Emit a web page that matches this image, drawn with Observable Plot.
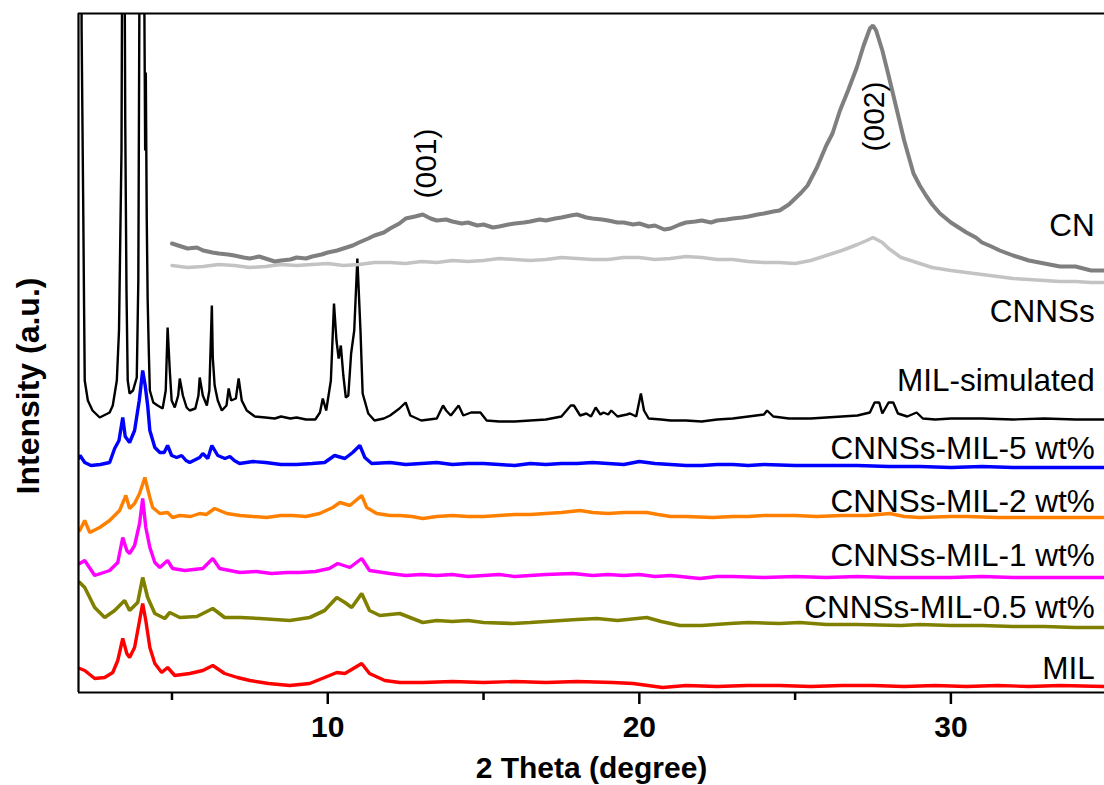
<!DOCTYPE html>
<html>
<head>
<meta charset="utf-8">
<script src="https://cdn.jsdelivr.net/npm/d3@7"></script>
<script src="https://cdn.jsdelivr.net/npm/@observablehq/plot@0.6"></script>
<style>
  html, body { margin: 0; padding: 0; background: #fff; }
  #chart { width: 1104px; height: 785px; overflow: hidden; }
</style>
</head>
<body>
<div id="chart"></div>
<script>
// ---------- data (2θ in degrees, intensity in arbitrary units, stacked offsets as in the figure) ----------
const seriesNames = ["CN", "CNNSs", "MIL-simulated", "CNNSs-MIL-5 wt%", "CNNSs-MIL-2 wt%", "CNNSs-MIL-1 wt%", "CNNSs-MIL-0.5 wt%", "MIL"];
const seriesColors = ["#7f7f7f", "#c3c3c3", "#000000", "#0000ff", "#ff8000", "#ff00ff", "#808000", "#ff0000"];
const seriesWidths = [4, 3.5, 2.4, 3.4, 3.4, 3.4, 3.6, 3.4];
const labelLevels = [467, 381, 312, 244, 191, 137, 85, 24];
const labelTheta = 34.62;
const xTicks = [10, 20, 30];
const xMinorTicks = [5, 15, 25];
const peakLabels = ["(001)", "(002)"];
const peakTheta = [13.18, 27.53];
const peakLevel = [529, 576];

const CN = [[5.0,449],[5.3,446],[5.5,444],[5.8,445],[6.0,442],[6.3,440],[6.5,439],[6.8,438],[7.0,437],[7.3,435],[7.5,434],[7.8,436],[8.0,434],[8.3,431],[8.5,432],[8.8,433],[9.0,435],[9.3,434],[9.5,436],[9.8,438],[10.0,440],[10.3,442],[10.5,444],[10.8,447],[11.0,450],[11.3,454],[11.5,457],[11.8,460],[12.0,464],[12.3,469],[12.5,474],[12.8,476],[13.05,478],[13.3,474],[13.5,472],[13.8,473],[14.0,471],[14.3,469],[14.5,470],[14.8,467],[15.0,468],[15.3,465],[15.5,466],[15.8,468],[16.0,469],[16.3,470],[16.5,471],[16.8,473],[17.0,472],[17.3,474],[17.5,475],[17.8,477],[18.0,478],[18.3,475],[18.5,474],[18.8,473],[19.0,472],[19.3,470],[19.5,470],[19.8,468],[20.0,469],[20.3,466],[20.5,467],[20.8,463],[21.0,464],[21.3,468],[21.5,470],[21.8,471],[22.0,472],[22.3,470],[22.5,472],[22.8,473],[23.0,474],[23.3,475],[23.5,476],[23.8,478],[24.0,479],[24.3,481],[24.5,482],[24.8,488],[25.0,494],[25.2,500],[25.4,507],[25.7,525],[26.0,547],[26.2,559],[26.44,582],[26.7,602],[26.98,625],[27.2,647],[27.4,664],[27.5,667],[27.6,662],[27.8,642],[28.0,617],[28.27,582],[28.5,552],[28.8,519],[29.0,507],[29.2,497],[29.4,488],[29.65,479],[30.0,470],[30.3,464],[30.5,460],[30.8,455],[31.0,450],[31.3,446],[31.57,442],[32.0,437],[32.5,432],[33.0,429],[33.5,426],[34.0,426],[34.5,422],[34.93,422]];

const CNNSs = [[5.0,427],[5.5,425],[6.0,426],[6.5,428],[7.0,427],[7.5,425],[8.0,426],[8.5,428],[9.0,427],[9.5,428],[10.0,429],[10.5,427],[11.0,428],[11.5,430],[12.0,430],[12.5,429],[13.0,431],[13.5,430],[14.0,432],[14.5,431],[15.0,432],[15.5,434],[16.0,433],[16.5,432],[17.0,433],[17.5,435],[18.0,434],[18.5,433],[19.0,433],[19.5,435],[20.0,435],[20.5,433],[21.0,434],[21.5,436],[22.0,435],[22.5,433],[23.0,433],[23.5,431],[24.0,430],[24.5,430],[25.0,429],[25.5,432],[26.0,437],[26.5,442],[27.0,448],[27.3,452],[27.5,455],[27.8,450],[28.0,444],[28.4,435],[29.0,429],[29.4,425],[30.0,422],[30.5,420],[31.0,418],[31.5,416],[32.0,414],[32.5,413],[33.0,412],[33.5,411],[34.0,411],[34.5,410],[34.93,410]];

const MILsim = [[2.0,900],[2.08,900],[2.1,662],[2.15,492],[2.18,382],[2.2,312],[2.3,292],[2.45,282],[2.68,275],[3.0,280],[3.1,287],[3.23,312],[3.3,362],[3.38,542],[3.42,900],[3.46,900],[3.5,572],[3.54,402],[3.58,312],[3.64,299],[3.75,302],[3.87,315],[3.92,412],[3.98,900],[4.08,900],[4.12,652],[4.14,542],[4.16,620],[4.19,475],[4.22,392],[4.26,337],[4.29,302],[4.4,290],[4.54,287],[4.7,284],[4.8,302],[4.86,365],[4.93,322],[4.99,292],[5.09,285],[5.2,297],[5.25,314],[5.35,297],[5.47,285],[5.57,282],[5.75,284],[5.85,297],[5.89,315],[5.99,297],[6.12,287],[6.2,302],[6.28,387],[6.31,335],[6.37,307],[6.47,292],[6.6,282],[6.75,287],[6.82,304],[6.9,292],[7.05,294],[7.14,314],[7.24,292],[7.4,282],[7.66,276],[8.0,275],[8.3,274],[8.5,276],[8.8,274],[9.0,275],[9.3,273],[9.6,273],[9.75,280],[9.84,294],[9.95,282],[10.1,312],[10.2,389],[10.28,352],[10.35,334],[10.42,347],[10.5,317],[10.58,295],[10.66,297],[10.75,339],[10.85,362],[10.95,434],[11.05,362],[11.12,299],[11.3,279],[11.5,272],[11.8,274],[12.0,277],[12.3,284],[12.5,290],[12.65,277],[13.0,272],[13.5,274],[13.7,287],[13.8,282],[13.95,277],[14.2,287],[14.35,277],[14.6,280],[14.9,280],[15.1,272],[15.5,271],[16.0,271],[16.5,272],[17.0,273],[17.5,276],[17.8,287],[17.9,287],[18.1,277],[18.3,279],[18.45,276],[18.6,285],[18.75,278],[18.85,280],[19.0,278],[19.1,282],[19.3,276],[19.6,278],[19.7,279],[19.9,276],[20.05,299],[20.15,282],[20.3,274],[20.7,273],[21.0,272],[21.5,272],[22.0,271],[22.5,273],[23.0,274],[23.5,276],[24.0,278],[24.1,282],[24.3,276],[24.8,274],[25.5,274],[26.0,275],[26.5,276],[27.0,277],[27.4,280],[27.55,290],[27.7,290],[27.8,279],[28.0,290],[28.15,290],[28.3,279],[28.6,276],[28.9,280],[29.1,274],[29.5,273],[30.0,274],[31.0,274],[32.0,273],[33.0,274],[34.0,273],[34.93,273]];

const MIL5 = [[2.0,234],[2.05,237],[2.2,230],[2.4,227],[2.7,228],[3.0,230],[3.16,244],[3.3,252],[3.42,275],[3.5,256],[3.64,250],[3.8,262],[3.95,292],[4.06,322],[4.14,307],[4.22,287],[4.29,262],[4.45,245],[4.61,240],[4.75,240],[4.86,247],[4.99,237],[5.15,235],[5.31,237],[5.45,232],[5.57,230],[5.89,235],[5.99,239],[6.15,234],[6.28,247],[6.47,237],[6.7,234],[6.86,236],[7.0,232],[7.17,229],[7.6,231],[8.0,230],[8.5,228],[9.0,228],[9.5,229],[9.9,230],[10.22,237],[10.55,234],[10.8,240],[11.03,247],[11.19,235],[11.41,229],[12.0,230],[12.5,228],[13.0,229],[13.5,230],[14.0,228],[14.5,229],[15.0,229],[15.5,228],[16.0,227],[16.5,229],[17.0,228],[17.5,229],[18.0,229],[18.5,230],[19.0,229],[19.5,228],[20.0,231],[20.5,229],[21.0,228],[21.5,227],[22.0,227],[22.5,228],[23.0,228],[23.5,227],[24.0,228],[25.0,227],[26.0,227],[27.0,227],[28.0,226],[29.0,226],[30.0,225],[31.0,226],[32.0,225],[33.0,225],[34.0,225],[34.93,225]];

const MIL2 = [[2.04,162],[2.2,172],[2.36,160],[2.68,165],[3.0,172],[3.32,182],[3.52,197],[3.64,184],[3.8,189],[3.96,199],[4.13,215],[4.29,195],[4.38,185],[4.61,179],[4.86,180],[5.02,175],[5.25,177],[5.6,176],[5.89,179],[6.1,178],[6.37,184],[6.76,179],[7.18,177],[7.6,176],[8.04,175],[8.5,177],[8.88,177],[9.3,176],[9.74,179],[10.16,185],[10.39,190],[10.71,187],[11.09,197],[11.25,185],[11.57,179],[12.0,177],[12.31,177],[12.7,176],[13.05,174],[13.5,176],[14.0,177],[14.5,176],[15.0,176],[15.5,177],[16.0,178],[16.5,178],[17.0,179],[17.5,180],[18.1,182],[18.5,180],[19.0,179],[19.5,180],[20.24,180],[20.6,178],[21.0,176],[21.5,176],[22.36,175],[23.0,176],[23.5,176],[24.0,177],[25.0,177],[25.7,176],[26.5,177],[27.3,177],[28.04,179],[28.5,176],[29.0,175],[30.0,176],[30.5,176],[31.5,175],[32.0,175],[33.0,175],[33.5,175],[34.93,175]];

const MIL1 = [[2.04,129],[2.2,132],[2.52,117],[3.0,122],[3.26,130],[3.42,155],[3.55,142],[3.64,139],[3.8,147],[3.96,169],[4.06,194],[4.16,165],[4.29,145],[4.45,130],[4.61,125],[4.86,132],[5.02,124],[5.41,122],[5.7,123],[5.99,124],[6.31,134],[6.53,124],[7.18,120],[7.7,121],[8.2,119],[8.7,120],[9.1,120],[9.6,121],[10.05,124],[10.32,129],[10.71,125],[11.09,134],[11.34,122],[11.99,119],[12.5,117],[13.0,118],[13.5,117],[14.0,118],[14.5,116],[15.0,117],[15.5,118],[16.0,116],[16.5,117],[17.0,118],[17.87,119],[18.5,117],[19.0,118],[19.5,117],[20.0,118],[20.5,116],[21.0,117],[21.94,114],[22.5,116],[23.0,116],[24.0,115],[25.0,116],[26.0,115],[27.0,116],[28.0,115],[29.0,115],[30.0,115],[31.0,116],[32.0,115],[33.0,115],[34.0,115],[34.93,115]];

const MIL05 = [[2.04,110],[2.2,105],[2.52,85],[2.84,75],[3.16,82],[3.48,92],[3.64,82],[3.9,90],[4.06,115],[4.22,95],[4.45,79],[4.77,74],[4.93,80],[5.25,75],[5.8,76],[6.31,84],[6.69,75],[7.2,75],[7.82,74],[8.3,73],[8.78,72],[9.42,75],[9.9,82],[10.29,95],[10.55,90],[10.77,85],[11.09,99],[11.34,82],[11.67,77],[12.31,79],[13.05,70],[13.5,72],[14.0,71],[14.5,72],[15.0,70],[15.94,69],[16.5,70],[17.0,71],[17.5,72],[18.0,73],[18.64,74],[19.3,72],[20.24,75],[20.7,71],[21.3,67],[22.0,67],[22.9,69],[23.5,70],[24.5,69],[25.15,70],[26.0,68],[27.0,68],[28.4,67],[29.0,68],[30.0,67],[31.0,67],[32.0,66],[33.0,66],[34.0,65],[34.93,65]];

const MIL = [[2.04,24],[2.2,22],[2.52,14],[2.84,15],[3.1,20],[3.26,32],[3.42,54],[3.55,39],[3.64,35],[3.8,45],[3.96,72],[4.06,89],[4.16,72],[4.29,45],[4.45,29],[4.67,20],[4.86,25],[5.09,17],[5.57,19],[5.99,22],[6.31,27],[6.69,19],[7.1,15],[7.5,12],[8.1,9],[8.78,7],[9.42,9],[9.9,15],[10.29,20],[10.55,19],[11.09,29],[11.34,19],[11.83,12],[12.31,10],[13.05,10],[14.0,11],[15.0,10],[16.0,11],[17.0,10],[18.0,11],[19.15,10],[19.8,9],[20.75,5],[21.5,7],[22.5,6],[23.45,7],[24.5,7],[25.5,6],[26.5,7],[27.5,7],[28.5,6],[29.5,7],[30.5,6],[31.5,7],[32.5,6],[33.5,7],[34.93,6]];

const seriesData = [CN, CNNSs, MILsim, MIL5, MIL2, MIL1, MIL05, MIL];

// ---------- chart ----------
const font = "'Liberation Sans', Arial, Helvetica, sans-serif";
const lineMarks = seriesData.map((data, i) =>
  Plot.line(data, {
    x: d => d[0], y: d => d[1],
    stroke: seriesColors[i], strokeWidth: seriesWidths[i],
    strokeLinejoin: "miter", clip: true
  })
);
// draw bottom series first so upper ones sit on top like the original
lineMarks.reverse();

const labels = seriesNames.map((name, i) => ({name, level: labelLevels[i]}));
const peaks = peakLabels.map((t, i) => ({t, x: peakTheta[i], y: peakLevel[i]}));

const chart = Plot.plot({
  width: 1104,
  height: 785,
  marginLeft: 78,
  marginRight: 0,
  marginTop: 13,
  marginBottom: 93,
  style: {fontFamily: font, background: "#fff", color: "#000", overflow: "visible"},
  x: {domain: [2, 34.93], axis: null},
  y: {domain: [0, 679], axis: null},
  marks: [
    ...lineMarks,
    Plot.ruleY([0], {stroke: "#000", strokeWidth: 2}),
    Plot.ruleY([679], {stroke: "#000", strokeWidth: 2}),
    Plot.ruleX([2], {stroke: "#000", strokeWidth: 2.2}),
    Plot.axisX({ticks: xTicks, tickSize: 12, strokeWidth: 2.5, tickFormat: () => "", label: null}),
    Plot.axisX({ticks: xMinorTicks, tickSize: 8, strokeWidth: 2.5, tickFormat: () => "", label: null}),
    Plot.text(xTicks, {x: d => d, frameAnchor: "bottom", lineAnchor: "top", dy: 23, text: d => String(d), fontSize: 30, fontWeight: "bold", fill: "#000"}),
    Plot.text(labels, {x: () => labelTheta, y: "level", text: "name", textAnchor: "end", fontSize: 31.5, fill: "#000"}),
    Plot.text(peaks, {x: "x", y: "y", text: "t", rotate: -90, fontSize: 30, fill: "#000"}),
    Plot.text(["2 Theta (degree)"], {frameAnchor: "bottom", lineAnchor: "top", dy: 64, fontSize: 30, fontWeight: "bold", fill: "#000"}),
    Plot.text(["Intensity (a.u.)"], {frameAnchor: "left", textAnchor: "middle", lineAnchor: "middle", rotate: -90, dx: -50, dy: 33, fontSize: 32, fontWeight: "bold", fill: "#000"})
  ]
});
document.getElementById("chart").appendChild(chart);
</script>
</body>
</html>
